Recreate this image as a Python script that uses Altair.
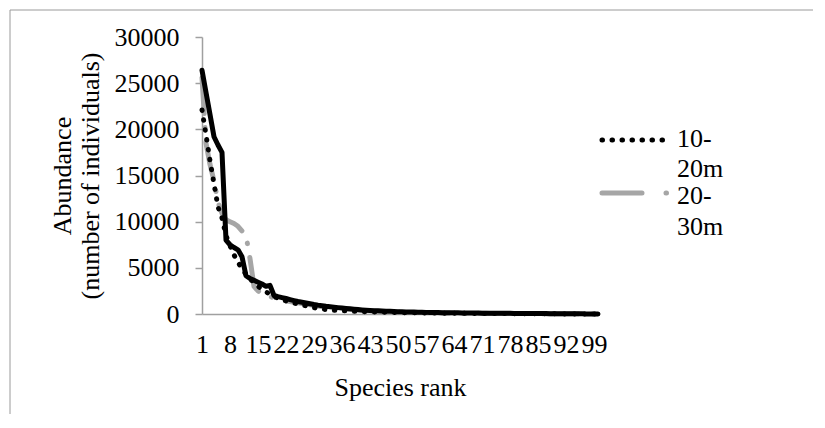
import altair as alt
import pandas as pd

# ---- data ----
ranks = list(range(1, 101))

series_names = ["10-20m", "20-30m", "30-40m"]

abund_10_20 = [
    22100, 19400, 16600, 14100, 11600, 10400, 8500, 7400, 6400, 5600,
    4900, 4300, 3800, 3400, 3000, 2700, 2400, 2150, 1900, 1700,
    1550, 1420, 1300, 1190, 1090, 990, 890, 790, 690, 600,
    530, 480, 440, 410, 380, 355, 335, 315, 295, 278,
    262, 247, 233, 220, 208, 196, 185, 175, 165, 156,
    148, 140, 133, 126, 120, 114, 108, 103, 98, 93,
    89, 85, 81, 77, 73, 70, 67, 64, 61, 58,
    55, 52, 50, 48, 46, 44, 42, 40, 38, 36,
    34, 32, 30, 28, 26, 24, 22, 20, 18, 16,
    14, 12, 10, 9, 8, 7, 6, 5, 4, 3,
]

abund_20_30 = [
    25600, 18500, 16200, 14400, 12100, 10900, 10200, 10000, 9800, 9500,
    9000, 8500, 6000, 3000, 2500, 2250, 2080, 1900, 1740, 1610,
    1500, 1420, 1350, 1280, 1210, 1140, 1070, 1000, 930, 860,
    800, 740, 690, 640, 595, 555, 515, 480, 448, 418,
    390, 364, 340, 318, 298, 280, 263, 247, 232, 218,
    205, 193, 182, 172, 162, 153, 145, 137, 130, 123,
    117, 111, 105, 100, 95, 90, 86, 82, 78, 74,
    71, 68, 65, 62, 59, 56, 53, 51, 49, 47,
    45, 43, 41, 39, 37, 35, 33, 31, 29, 27,
    25, 23, 21, 19, 17, 15, 13, 11, 9, 7,
]

abund_30_40 = [
    26400, 24000, 21600, 19200, 18300, 17500, 8000, 7500, 7200, 6950,
    6200, 4150, 3850, 3650, 3450, 3250, 3000, 3100, 2000, 1880,
    1780, 1680, 1560, 1450, 1350, 1270, 1190, 1110, 1030, 960,
    900, 840, 790, 740, 690, 645, 600, 560, 520, 480,
    445, 415, 390, 365, 345, 325, 305, 285, 265, 250,
    238, 226, 215, 204, 194, 185, 176, 168, 160, 153,
    146, 140, 134, 128, 122, 117, 112, 107, 102, 98,
    94, 90, 86, 82, 78, 75, 72, 69, 66, 63,
    60, 57, 54, 51, 48, 45, 42, 39, 36, 33,
    30, 27, 24, 21, 18, 15, 12, 10, 8, 5,
]

x_tick_values = list(range(1, 100, 7))
y_tick_values = [0, 5000, 10000, 15000, 20000, 25000, 30000]

FONT = "Liberation Serif"
GRAY_LINE = "#a6a6a6"
AXIS_GRAY = "#a0a0a0"

W, H = 396, 277

df_a = pd.DataFrame({"rank": ranks, "abundance": abund_10_20, "series": series_names[0]})
df_b = pd.DataFrame({"rank": ranks, "abundance": abund_20_30, "series": series_names[1]})
df_c = pd.DataFrame({"rank": ranks, "abundance": abund_30_40, "series": series_names[2]})

x_axis = alt.Axis(
    title="Species rank",
    values=x_tick_values,
    format="d",
    ticks=False,
    tickSize=0,
    labelPadding=17,
    labelOverlap=False,
    labelFlush=False,
    labelBaseline="top",
    grid=False,
    titleX=W / 2,
    titleY=81,
    titleBaseline="alphabetic",
)
y_axis = alt.Axis(
    title=["Abundance", "(number of individuals)"],
    values=y_tick_values,
    format="d",
    tickSize=7,
    labelPadding=16,
    labelFlush=False,
    labelOverlap=False,
    grid=False,
    titleAngle=-90,
    titleX=-132,
    titleY=H / 2,
    titleBaseline="alphabetic",
    titleAlign="center",
    titleLineHeight=28,
)
x_scale = alt.Scale(domain=[1, 100], nice=False, zero=False)
y_scale = alt.Scale(domain=[0, 30000], nice=False)


def enc(chart):
    return chart.encode(
        x=alt.X("rank:Q", scale=x_scale, axis=x_axis),
        y=alt.Y("abundance:Q", scale=y_scale, axis=y_axis),
    )


line_b = enc(alt.Chart(df_b).mark_line(
    color=GRAY_LINE, strokeWidth=5, strokeDash=[36, 14, 0.5, 14],
    strokeCap="round", strokeJoin="round",
))
line_a = enc(alt.Chart(df_a).mark_line(
    color="black", strokeWidth=5, strokeDash=[0.5, 9.5],
    strokeCap="round", strokeJoin="round",
))
line_c = enc(alt.Chart(df_c).mark_line(
    color="black", strokeWidth=5, strokeCap="round", strokeJoin="round",
))

# ---- legend (drawn as decoration, right of the plot) ----
leg_a = pd.DataFrame({"series": [series_names[0]]})
leg_b = pd.DataFrame({"series": [series_names[1]]})

leg_a_sym = alt.Chart(leg_a).mark_rule(
    color="black", strokeWidth=5, strokeDash=[0.5, 9.5], strokeCap="round"
).encode(x=alt.value(400), x2=alt.value(461), y=alt.value(103))
leg_a_txt = alt.Chart(leg_a).mark_text(
    font=FONT, fontSize=26, align="left", baseline="alphabetic", lineHeight=30, color="black"
).encode(x=alt.value(475), y=alt.value(110),
         text=alt.value([series_names[0][:3], series_names[0][3:]]))

leg_b_sym = alt.Chart(leg_b).mark_rule(
    color=GRAY_LINE, strokeWidth=5, strokeDash=[40, 24, 0.5, 24], strokeCap="round"
).encode(x=alt.value(400), x2=alt.value(466), y=alt.value(156))
leg_b_txt = alt.Chart(leg_b).mark_text(
    font=FONT, fontSize=26, align="left", baseline="alphabetic", lineHeight=31, color="black"
).encode(x=alt.value(475), y=alt.value(167),
         text=alt.value([series_names[1][:3], series_names[1][3:]]))

# chart-area border (top and left edges visible in the reference)
border_df = pd.DataFrame({"b": [0]})
border_top = alt.Chart(border_df).mark_rule(color="#9a9a9a", strokeWidth=1).encode(
    x=alt.value(-192), x2=alt.value(700), y=alt.value(-27))
border_left = alt.Chart(border_df).mark_rule(color="#9a9a9a", strokeWidth=1).encode(
    x=alt.value(-192), y=alt.value(-27), y2=alt.value(600))

chart = alt.layer(
    line_b, line_a, line_c,
    border_top, border_left,
    leg_a_sym, leg_a_txt, leg_b_sym, leg_b_txt,
).properties(
    width=W, height=H,
    autosize=alt.AutoSizeParams(type="none"),
    padding={"left": 194, "top": 29, "right": 215, "bottom": 100},
    background="white",
).configure_view(
    stroke=None
).configure_axis(
    labelFont=FONT, labelFontSize=26, labelColor="black",
    titleFont=FONT, titleFontSize=26, titleFontWeight="normal", titleColor="black",
    domainColor=AXIS_GRAY, domainWidth=1.5, tickColor=AXIS_GRAY, tickWidth=1.5,
)

chart.save("out.html", embed_options={"renderer": "svg", "actions": False})
